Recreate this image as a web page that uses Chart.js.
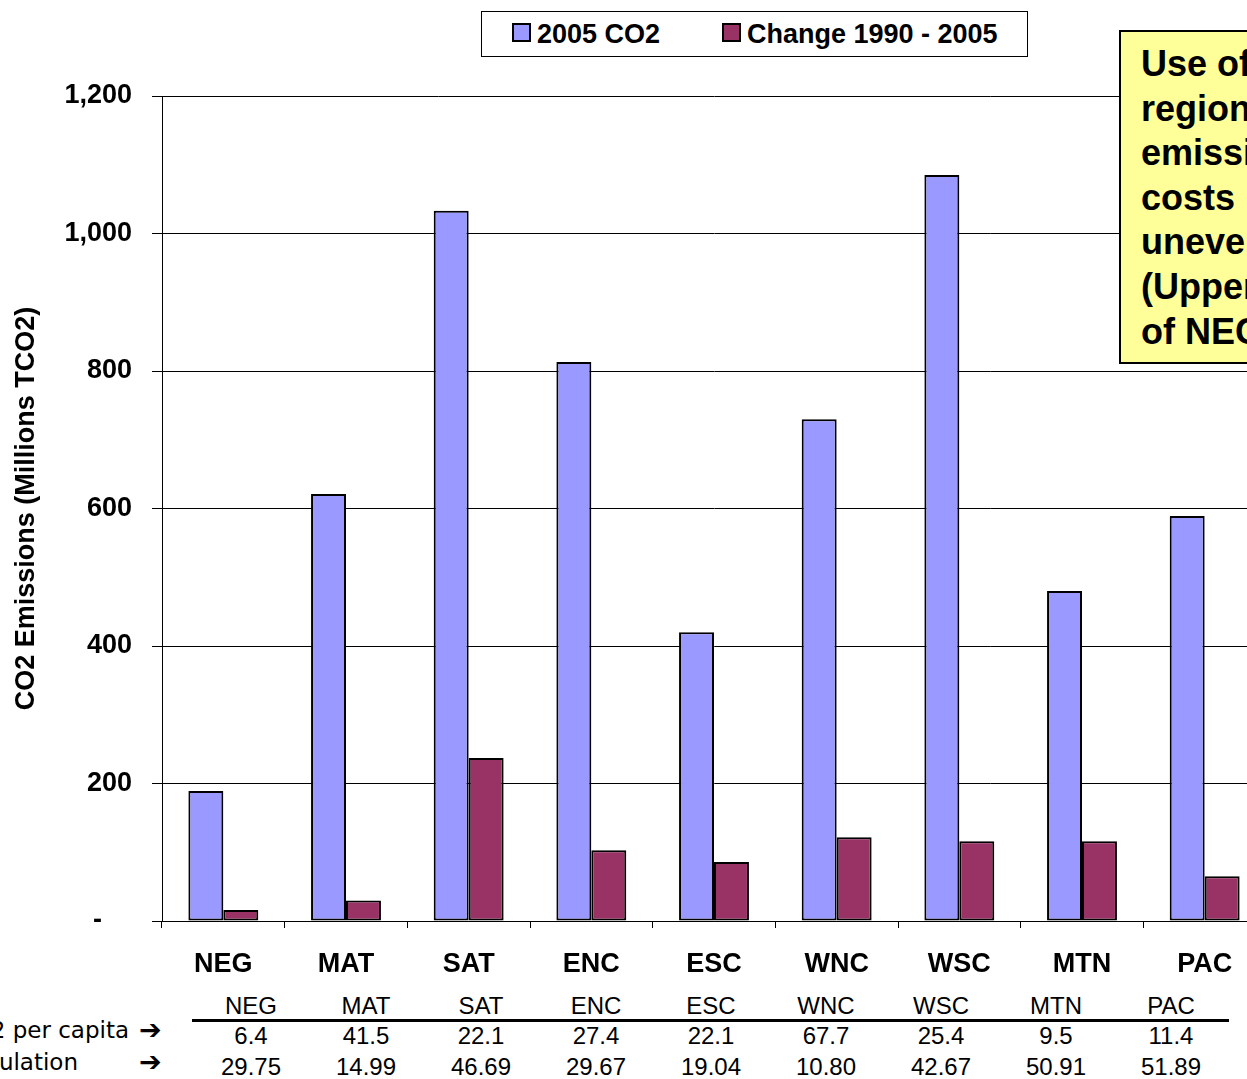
<!DOCTYPE html>
<html>
<head>
<meta charset="utf-8">
<script src="https://cdn.jsdelivr.net/npm/chart.js@4/dist/chart.umd.min.js"></script>
<style>
  html, body { margin: 0; padding: 0; background: #fff; overflow: hidden; width: 1247px; height: 1079px; }
  #wrap { position: absolute; left: 0; top: 0; width: 1266px; height: 990px; }
  #legend { position: absolute; left: 481px; top: 11px; width: 545px; height: 44px; border: 1px solid #000;
            font: bold 27px "Liberation Sans", Arial, sans-serif; background: #fff; }
  #legend span.item { position: absolute; top: 7px; white-space: nowrap; }
  #legend i { display: inline-block; width: 15px; height: 15px; border: 2px solid #000; margin-right: 6px; vertical-align: 1px; }
  #note { position: absolute; left: 1119px; top: 30px; width: 200px; height: 334px; background: #ffff99; border: 2px solid #000;
          font: bold 36px/44.6px "Liberation Sans", Arial, sans-serif; padding: 10px 0 0 20px; box-sizing: border-box; white-space: nowrap; }
  .tbl { position: absolute; font: 24px "Liberation Sans", Arial, sans-serif; text-align: center; width: 115px; }
  .rowlab { position: absolute; font: 23px "DejaVu Sans", Verdana, sans-serif; white-space: nowrap; text-align: right; }
  .arrow { position: absolute; left: 139px; font: bold 27px "DejaVu Sans", sans-serif; }
  #rule { position: absolute; left: 192px; top: 1019px; width: 1037px; height: 3px; background: #000; }
</style>
</head>
<body>
<div id="wrap"><canvas id="chart"></canvas></div>
<div id="legend"></div>
<div id="note">Use of<br>regional<br>emissions<br>costs<br>uneven<br>(Upper<br>of NEG)</div>
<div id="table"></div>
<script>
const regions = ["NEG", "MAT", "SAT", "ENC", "ESC", "WNC", "WSC", "MTN", "PAC"];
const co2_2005 = [189, 621, 1033, 813, 420, 730, 1085, 480, 589];
const change_1990_2005 = [16, 30, 237, 103, 86, 122, 116, 116, 65];
const perCapita = ["6.4", "41.5", "22.1", "27.4", "22.1", "67.7", "25.4", "9.5", "11.4"];
const population = ["29.75", "14.99", "46.69", "29.67", "19.04", "10.80", "42.67", "50.91", "51.89"];
const seriesNames = ["2005 CO2", "Change 1990 - 2005"];
const seriesColors = ["#9999ff", "#993366"];

const ctx = document.getElementById('chart');

const chart = new Chart(ctx, {
    type: 'bar',
    data: {
        labels: regions,
        datasets: [
            {
                label: seriesNames[0],
                data: co2_2005,
                backgroundColor: seriesColors[0],
                borderColor: '#000',
                borderWidth: 2,
                borderSkipped: false
            },
            {
                label: seriesNames[1],
                data: change_1990_2005,
                backgroundColor: seriesColors[1],
                borderColor: '#000',
                borderWidth: 2,
                borderSkipped: false
            }
        ]
    },
    options: {
        responsive: true,
        maintainAspectRatio: false,
        animation: false,
        layout: { padding: { top: 96, left: 0, right: 0, bottom: 0 } },
        datasets: { bar: { barPercentage: 1, categoryPercentage: 0.57 } },
        plugins: {
            legend: { display: false },
            tooltip: { enabled: false }
        },
        scales: {
            x: {
                grid: { display: true, drawOnChartArea: false, color: '#000', tickLength: 7, offset: true },
                border: { display: true, color: '#000', width: 1 },
                ticks: {
                    color: '#000',
                    padding: 20,
                    font: { family: '"Liberation Sans", Arial, sans-serif', size: 27, weight: 'bold' }
                },
                afterFit: (scale) => { scale.height = 69; }
            },
            y: {
                min: 0,
                max: 1200,
                ticks: {
                    stepSize: 200,
                    color: '#000',
                    padding: 20,
                    font: { family: '"Liberation Sans", Arial, sans-serif', size: 27, weight: 'bold' },
                    callback: (v) => v === 0 ? '-    ' : v.toLocaleString('en-US') // excel-style dash for zero
                },
                grid: { color: '#000', lineWidth: 1, tickLength: 10 },
                border: { display: true, color: '#000', width: 1 },
                title: {
                    display: true,
                    text: 'CO2 Emissions (Millions TCO2)',
                    color: '#000',
                    padding: { top: 10, bottom: 0 },
                    font: { family: '"Liberation Sans", Arial, sans-serif', size: 27, weight: 'bold' }
                },
                afterFit: (scale) => { scale.width = 162; }
            }
        }
    }
});

// legend
const legend = document.getElementById('legend');
const legendX = [30, 240];
seriesNames.forEach((name, i) => {
    const s = document.createElement('span');
    s.className = 'item';
    s.style.left = legendX[i] + 'px';
    s.innerHTML = '<i style="background:' + seriesColors[i] + '"></i>' + name;
    legend.appendChild(s);
});

// small data table under the chart
const table = document.getElementById('table');
function addCell(text, left, top) {
    const d = document.createElement('div');
    d.className = 'tbl';
    d.style.left = left + 'px';
    d.style.top = top + 'px';
    d.textContent = text;
    table.appendChild(d);
}
regions.forEach((r, i) => {
    const left = 193.5 + i * 115;
    addCell(r, left, 992);
    addCell(perCapita[i], left, 1022);
    addCell(population[i], left, 1053);
});
const rule = document.createElement('div');
rule.id = 'rule';
table.appendChild(rule);

function addRowLabel(text, right, top) {
    const d = document.createElement('div');
    d.className = 'rowlab';
    d.style.right = (1247 - right) + 'px';
    d.style.top = top + 'px';
    d.textContent = text;
    table.appendChild(d);
    const a = document.createElement('div');
    a.className = 'arrow';
    a.style.top = (top - 3) + 'px';
    a.textContent = '➔';
    table.appendChild(a);
}
addRowLabel('CO2 per capita', 129, 1017);
addRowLabel('Population', 78, 1049);
</script>
</body>
</html>
